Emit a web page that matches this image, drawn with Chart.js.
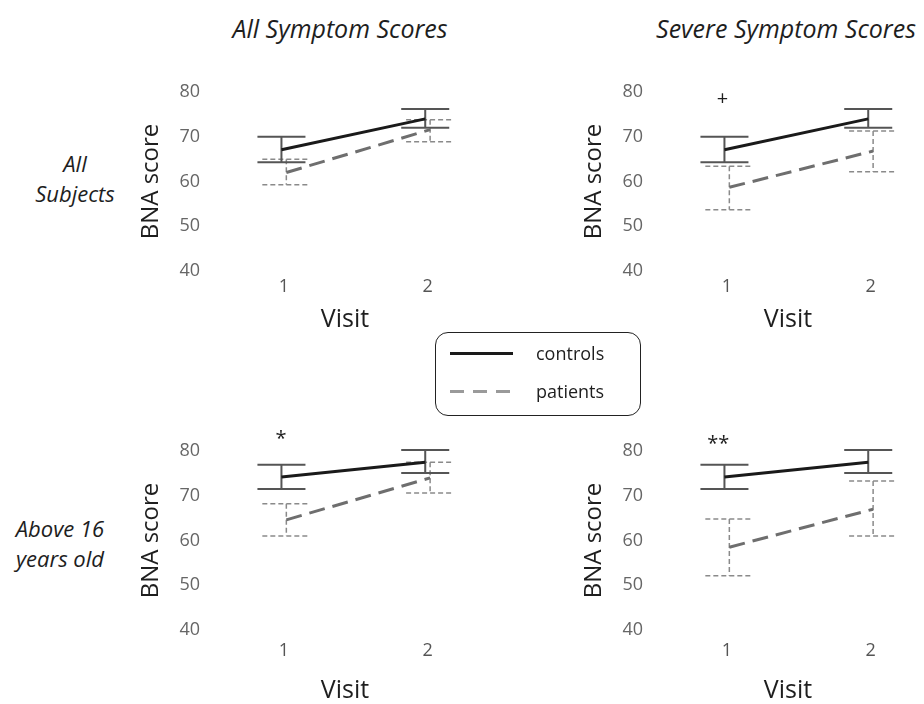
<!DOCTYPE html>
<html>
<head>
<meta charset="utf-8">
<script src="https://cdn.jsdelivr.net/npm/chart.js@4.4.1/dist/chart.umd.min.js"></script>
<style>
  body { margin: 0; background: #fff; }
  #page { position: relative; width: 924px; height: 704px; overflow: hidden; font-family: 'Open Sans', sans-serif; color: #1e1e1e; }
  canvas { position: absolute; }
  .lbl { position: absolute; transform: translate(-50%, -50%); white-space: nowrap; font-style: italic; }
  .colTitle { font-size: 25px; }
  .rowTitle { font-size: 22px; text-align: center; line-height: 30px; }
  #legend { position: absolute; left: 435px; top: 332px; width: 206px; height: 84px; border: 1.5px solid #222; border-radius: 13px; box-sizing: border-box; }
  #legend .row { position: absolute; left: 0; font-size: 18px; }
  #legend .key { position: absolute; left: 14px; width: 63px; height: 0; }
  #legend .txt { position: absolute; left: 100px; transform: translateY(-50%); }
</style>
</head>
<body>
<div id="page">
  <div class="lbl colTitle" style="left:340px; top:28px;">All Symptom Scores</div>
  <div class="lbl colTitle" style="left:786px; top:28px;">Severe Symptom Scores</div>
  <div class="lbl rowTitle" style="left:75px; top:178px;">All<br>Subjects</div>
  <div class="lbl rowTitle" style="left:60px; top:543px;">Above 16<br>years old</div>

  <canvas id="c1" width="350" height="289" style="left:133px; top:50px;"></canvas>
  <canvas id="c2" width="348" height="289" style="left:576px; top:50px;"></canvas>
  <canvas id="c3" width="350" height="301" style="left:133px; top:409px;"></canvas>
  <canvas id="c4" width="348" height="301" style="left:576px; top:409px;"></canvas>

  <div id="legend">
    <div class="row" style="top:20px;">
      <div class="key" style="border-top:3px solid #1a1a1a; top:-1px;"></div>
      <div class="txt">controls</div>
    </div>
    <div class="row" style="top:58px;">
      <div class="key" style="height:3px; top:-1px; background:repeating-linear-gradient(to right,#9a9a9a 0 14px,transparent 14px 23px);"></div>
      <div class="txt">patients</div>
    </div>
  </div>
</div>

<script>
// visits and axis ticks
const visits = [1, 2];
const yTicks = [40, 50, 60, 70, 80];

// All subjects, all symptom scores
const ctrlMeanA = [67.1, 74.0];
const ctrlLoA   = [64.3, 72.0];
const ctrlHiA   = [70.0, 76.2];
const patMeanA  = [62.0, 71.6];
const patLoA    = [59.3, 68.9];
const patHiA    = [65.0, 73.8];

// All subjects, severe symptom scores
const ctrlMeanB = [67.1, 74.0];
const ctrlLoB   = [64.3, 72.0];
const ctrlHiB   = [70.0, 76.2];
const patMeanB  = [58.7, 66.8];
const patLoB    = [53.7, 62.2];
const patHiB    = [63.4, 71.3];

// Above 16, all symptom scores
const ctrlMeanC = [74.2, 77.5];
const ctrlLoC   = [71.5, 75.1];
const ctrlHiC   = [76.9, 80.2];
const patMeanC  = [64.6, 74.0];
const patLoC    = [61.0, 70.6];
const patHiC    = [68.2, 77.5];

// Above 16, severe symptom scores
const ctrlMeanD = [74.2, 77.5];
const ctrlLoD   = [71.5, 75.1];
const ctrlHiD   = [76.9, 80.2];
const patMeanD  = [58.5, 67.0];
const patLoD    = [52.1, 61.0];
const patHiD    = [64.8, 73.3];

// significance marks: [text, visit, score]
const sigA = null;
const sigB = ['+', 0.97, 78.3];
const sigC = ['*', 0.98, 82.6];
const sigD = ['**', 0.94, 81.4];

const dodge = 0.017;   // small horizontal shift between groups
const capHalf = 0.167; // half cap width in visit units

Chart.defaults.font.family = "'Open Sans', sans-serif";

const errorBars = {
  id: 'errorBars',
  beforeDatasetsDraw(chart) {
    const { ctx, scales: { x, y } } = chart;
    chart.data.datasets.forEach(ds => {
      const eb = ds.errorBars;
      ctx.save();
      ctx.strokeStyle = eb.color;
      ctx.lineWidth = eb.width;
      ctx.setLineDash(eb.dash);
      ds.data.forEach((pt, i) => {
        const px = x.getPixelForValue(pt.x);
        const left = x.getPixelForValue(pt.x - capHalf);
        const right = x.getPixelForValue(pt.x + capHalf);
        const top = y.getPixelForValue(eb.hi[i]);
        const bot = y.getPixelForValue(eb.lo[i]);
        ctx.beginPath();
        ctx.moveTo(px, top); ctx.lineTo(px, bot);
        ctx.moveTo(left, top); ctx.lineTo(right, top);
        ctx.moveTo(left, bot); ctx.lineTo(right, bot);
        ctx.stroke();
      });
      ctx.restore();
    });
  }
};

const sigMark = {
  id: 'sigMark',
  afterDatasetsDraw(chart, args, opts) {
    if (!opts.mark) return;
    const { ctx, scales: { x, y } } = chart;
    const [txt, vx, vy] = opts.mark;
    ctx.save();
    ctx.fillStyle = '#1e1e1e';
    ctx.font = "20px 'Open Sans', sans-serif";
    ctx.textAlign = 'center';
    ctx.textBaseline = 'middle';
    ctx.fillText(txt, x.getPixelForValue(vx), y.getPixelForValue(vy));
    ctx.restore();
  }
};

function pts(vals, shift) {
  return vals.map((v, i) => ({ x: visits[i] + shift, y: v }));
}

function makeChart(id, cMean, cLo, cHi, pMean, pLo, pHi, mark, padRight, xHeight, xPad) {
  return new Chart(document.getElementById(id), {
    type: 'line',
    data: {
      datasets: [
        {
          label: 'patients',
          data: pts(pMean, dodge),
          borderColor: '#6e6e6e',
          borderWidth: 3,
          borderDash: [16, 8],
          pointRadius: 0,
          errorBars: { lo: pLo, hi: pHi, color: '#8a8a8a', width: 1.5, dash: [5, 3] },
        },
        {
          label: 'controls',
          data: pts(cMean, -dodge),
          borderColor: '#1a1a1a',
          borderWidth: 3,
          pointRadius: 0,
          errorBars: { lo: cLo, hi: cHi, color: '#555', width: 2, dash: [] },
        },
      ],
    },
    options: {
      responsive: false,
      animation: false,
      layout: { padding: { top: 42, right: padRight, left: 0, bottom: 0 } },
      plugins: {
        legend: { display: false },
        tooltip: { enabled: false },
        sigMark: { mark: mark },
      },
      scales: {
        x: {
          type: 'linear',
          min: 0.5,
          max: 2.35,
          afterBuildTicks: s => { s.ticks = visits.map(v => ({ value: v })); },
          ticks: { color: '#555', font: { size: 18 }, padding: xPad },
          grid: { display: false, drawTicks: true, tickLength: 4 },
          border: { display: false },
          title: { display: true, text: 'Visit', color: '#1e1e1e', font: { size: 25 } },
          afterFit: s => { s.height = xHeight; },
        },
        y: {
          min: 40,
          max: 80,
          afterBuildTicks: s => { s.ticks = yTicks.map(v => ({ value: v })); },
          ticks: { color: '#666', font: { size: 18 }, padding: 4 },
          grid: { display: false },
          border: { display: false },
          title: { display: true, text: 'BNA score', color: '#1e1e1e', font: { size: 24 } },
          afterFit: s => { s.width = 79; },
        },
      },
    },
    plugins: [errorBars, sigMark],
  });
}

makeChart('c1', ctrlMeanA, ctrlLoA, ctrlHiA, patMeanA, patLoA, patHiA, sigA, 5, 68, 1);
makeChart('c2', ctrlMeanB, ctrlLoB, ctrlHiB, patMeanB, patLoB, patHiB, sigB, 3, 68, 1);
makeChart('c3', ctrlMeanC, ctrlLoC, ctrlHiC, patMeanC, patLoC, patHiC, sigC, 5, 80, 6);
makeChart('c4', ctrlMeanD, ctrlLoD, ctrlHiD, patMeanD, patLoD, patHiD, sigD, 3, 80, 6);
</script>
</body>
</html>
